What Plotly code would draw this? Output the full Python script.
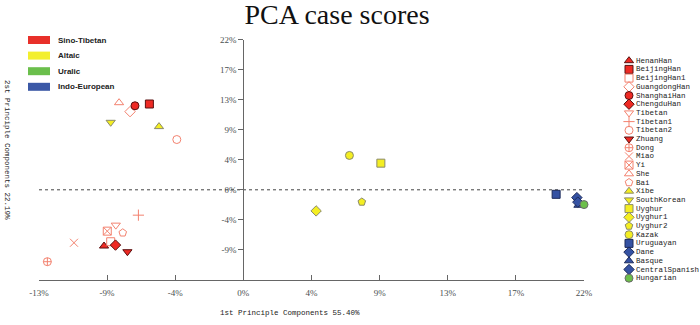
import plotly.graph_objects as go

# ---------------- data ----------------
names = ["HenanHan", "BeijingHan", "BeijingHan1", "GuangdongHan", "ShanghaiHan",
         "ChengduHan", "Tibetan", "Tibetan1", "Tibetan2", "Zhuang", "Dong", "Miao",
         "Yi", "She", "Bai", "Xibe", "SouthKorean", "Uyghur", "Uyghur1", "Uyghur2",
         "Kazak", "Uruguayan", "Dane", "Basque", "CentralSpanish", "Hungarian"]
pc1 = [-9.0, -6.07, -8.57, -7.32, -7.0, -8.26, -8.24, -6.78, -4.3, -7.49, -12.66,
       -10.94, -8.79, -8.03, -7.79, -5.45, -8.57, 8.88, 4.7, 7.65, 6.85, 20.2,
       21.54, 21.64, 21.6, 22.0]
pc2 = [-8.23, 12.56, -7.6, 11.44, 12.3, -8.09, -5.17, -3.71, 7.36, -9.06, -10.52,
       -7.75, -6.05, 12.75, -6.29, 9.25, 9.88, 3.9, -3.09, -1.78, 5.03, -0.66,
       -1.14, -2.26, -1.8, -2.16]
families = ["Sino-Tibetan", "Altaic", "Uralic", "Indo-European"]
tick_vals = [-13.2, -8.8, -4.4, 0, 4.4, 8.8, 13.2, 17.6, 22]
x_tick_text = ["-13%", "-9%", "-4%", "0%", "4%", "9%", "13%", "17%", "22%"]
y_tick_vals = [-8.8, -4.4, 0, 4.4, 8.8, 13.2, 17.6, 22]
y_tick_text = ["-9%", "-4%", "0%", "4%", "9%", "13%", "17%", "22%"]

# ---------------- styles ----------------
RED, RED_L = "#ee2a24", "#5a1010"
SAL = "#f3826f"
YEL, YEL_L = "#f4ee22", "#8a8a6a"
BLU, BLU_L = "#3552a3", "#1c2a5a"
GRN, GRN_L = "#6cbf4a", "#6a6a6a"
family_colors = ["#e8302a", "#f3ef2e", "#6bbf4c", "#3b58a6"]

# (symbol, fill/line colour, border colour)
styles = [
    ("triangle-up", RED, RED_L), ("square", RED, RED_L), ("square-open", SAL, SAL),
    ("diamond-open", SAL, SAL), ("circle", RED, RED_L), ("diamond", RED, RED_L),
    ("triangle-down-open", SAL, SAL), ("cross-thin-open", SAL, SAL),
    ("circle-open", SAL, SAL), ("triangle-down", RED, RED_L),
    ("circle-cross-open", SAL, SAL), ("x-thin-open", SAL, SAL),
    ("square-x-open", SAL, SAL), ("triangle-up-open", SAL, SAL),
    ("pentagon-open", SAL, SAL),
    ("triangle-up", YEL, YEL_L), ("triangle-down", YEL, YEL_L), ("square", YEL, YEL_L),
    ("diamond", YEL, YEL_L), ("pentagon", YEL, YEL_L), ("circle", YEL, YEL_L),
    ("square", BLU, BLU_L), ("diamond", BLU, BLU_L), ("triangle-up", BLU, BLU_L),
    ("diamond", BLU, BLU_L), ("circle", GRN, GRN_L),
]

W, H = 700, 325
PL, PR, PT, PB = 39, 584, 39.5, 280  # plot box in pixels
XR = [-13.2, 22]
YR = [-13.2, 22]

fig = go.Figure()

# main scatter
for n, x, y, (sym, c, lc) in zip(names, pc1, pc2, styles):
    fig.add_trace(go.Scatter(
        x=[x], y=[y], mode="markers", name=n, showlegend=False, cliponaxis=False,
        marker=dict(symbol=sym, size=8, color=c, line=dict(color=lc, width=1)),
        xaxis="x", yaxis="y"))

# custom compact legend on overlay axes
leg_x0, leg_y0, leg_dy = 629, 60.7, 8.7
for i, (n, (sym, c, lc)) in enumerate(zip(names, styles)):
    fig.add_trace(go.Scatter(
        x=[leg_x0], y=[leg_y0 + i * leg_dy], mode="markers", showlegend=False,
        cliponaxis=False, hoverinfo="skip",
        marker=dict(symbol=sym, size=8, color=c, line=dict(color=lc, width=1)),
        xaxis="x2", yaxis="y2"))
    fig.add_annotation(x=leg_x0 + 5, y=leg_y0 + i * leg_dy, xref="x2", yref="y2",
                       text=n, showarrow=False, xanchor="left", yanchor="middle",
                       font=dict(family="Liberation Mono", size=7.5, color="#222"))

# family legend
for i, (fam, col) in enumerate(zip(families, family_colors)):
    yc = 40 + i * 15.6
    fig.add_shape(type="rect", xref="paper", yref="paper",
                  x0=28 / W, x1=50 / W, y0=1 - (yc + 4) / H, y1=1 - (yc - 4) / H,
                  fillcolor=col, line=dict(color=col, width=0))
    fig.add_annotation(x=56 / W, y=1 - yc / H, xref="paper", yref="paper",
                       text="<b>" + fam + "</b>", showarrow=False,
                       xanchor="left", yanchor="middle",
                       font=dict(family="Liberation Sans", size=8, color="#222"))

# dotted zero line
fig.add_shape(type="line", xref="x", yref="y", x0=XR[0], x1=XR[1], y0=0, y1=0,
              line=dict(color="#444", width=1, dash="dot"), layer="below")

xdom = [PL / W, PR / W]
ydom = [1 - PB / H, 1 - PT / H]
ypos = xdom[0] + (0 - XR[0]) / (XR[1] - XR[0]) * (xdom[1] - xdom[0])

tickfont = dict(family="Liberation Serif", size=9, color="#4a5050")

fig.update_layout(
    width=W, height=H, autosize=False,
    margin=dict(l=0, r=0, t=0, b=0),
    paper_bgcolor="white", plot_bgcolor="white",
    title=dict(text="PCA case scores", x=337 / W, xref="paper", xanchor="center",
               y=1 - 14.5 / H, yref="paper", yanchor="middle",
               font=dict(family="Liberation Serif", size=28, color="#111")),
    xaxis=dict(domain=xdom, range=XR, tickvals=tick_vals, ticktext=x_tick_text,
               showgrid=False, zeroline=False, showline=True, linecolor="#666",
               linewidth=1, ticks="inside", ticklen=5, tickcolor="#666",
               tickfont=tickfont, anchor="y", automargin=False,
               ticklabelstandoff=4),
    yaxis=dict(domain=ydom, range=YR, tickvals=y_tick_vals, ticktext=y_tick_text,
               showgrid=False, zeroline=False, showline=True, linecolor="#666",
               linewidth=1, ticks="outside", ticklen=5, tickcolor="#666",
               tickfont=tickfont, anchor="free", position=ypos, automargin=False),
    xaxis2=dict(domain=[600 / W, 1], range=[600, 700], visible=False,
                fixedrange=True, anchor="y2"),
    yaxis2=dict(domain=[0, 1], range=[H, 0], visible=False, fixedrange=True,
                anchor="x2"),
)

fig.add_annotation(x=290 / W, y=1 - 313 / H, xref="paper", yref="paper",
                   text="1st Principle Components 55.40%", showarrow=False,
                   xanchor="center", yanchor="middle",
                   font=dict(family="Liberation Mono", size=7.5, color="#222"))
fig.add_annotation(x=7 / W, y=1 - 150 / H, xref="paper", yref="paper",
                   text="2st Principle Components 22.19%", showarrow=False,
                   textangle=90, xanchor="center", yanchor="middle",
                   font=dict(family="Liberation Mono", size=7.5, color="#222"))

fig.write_html("out.html",
               config={"displayModeBar": False},
               post_script="document.body.style.margin='0';"
                           "document.body.style.overflow='hidden';")
